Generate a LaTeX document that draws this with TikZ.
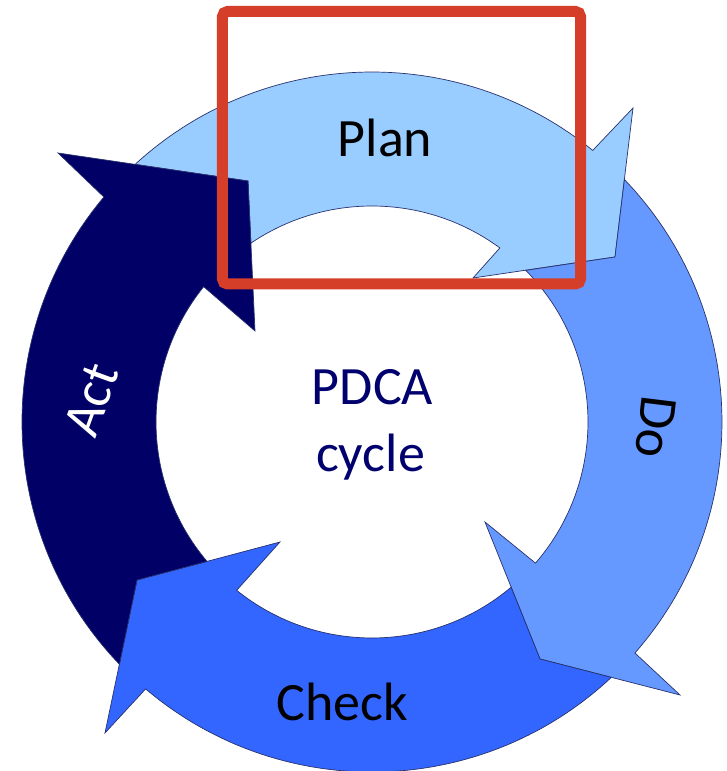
\documentclass[tikz,border=0pt]{standalone}
\usepackage{fontspec}
\setmainfont{Carlito}
\definecolor{planc}{RGB}{153,204,255}
\definecolor{doc}{RGB}{102,153,255}
\definecolor{checkc}{RGB}{51,102,255}
\definecolor{actc}{RGB}{0,0,102}
\definecolor{edgec}{RGB}{40,50,110}
\definecolor{navytext}{RGB}{0,0,110}
\definecolor{framec}{RGB}{213,62,40}
\tikzset{
  cyclearrow/.style={draw=edgec, line width=0.7pt, line join=miter},
  bigtext/.style={font=\fontsize{54}{60}\selectfont, inner sep=0pt},
  hiliteframe/.style={draw=framec, line width=11pt, rounded corners=5pt}
}
\begin{document}
\begin{tikzpicture}[x=1pt,y=1pt]
\useasboundingbox (-372,-349) rectangle (355,422);
\fill[white] (-372,-349) rectangle (355,422);
% Plan
\path[cyclearrow, fill=planc] (-124,241) -- (132.6:350) arc[start angle=132.6, end angle=50.9, radius=350pt]
  -- (261,314) -- (243,165) -- (101,144) -- (53.7:216) arc[start angle=53.7, end angle=124.1, radius=216pt] -- cycle;
% Do
\path[cyclearrow, fill=doc] (243,165) -- (43.85:350) arc[start angle=43.85, end angle=-41.3, radius=350pt]
  -- (308,-273) -- (168,-237) -- (113,-100) -- (-40.8:216) arc[start angle=-40.8, end angle=44.6, radius=216pt] -- cycle;
% Check
\path[cyclearrow, fill=checkc] (168,-237) -- (-46.85:350) arc[start angle=-46.85, end angle=-130.3, radius=350pt]
  -- (-267,-311) -- (-235,-158) -- (-92,-120) -- (-128.8:216) arc[start angle=-128.8, end angle=-49.9, radius=216pt] -- cycle;
% Act
\path[cyclearrow, fill=actc] (-235,-158) -- (223.8:350) arc[start angle=223.8, end angle=140, radius=350pt]
  -- (-314,269) -- (-124,241) -- (-117,91) -- (141.2:216) arc[start angle=141.2, end angle=220.2, radius=216pt] -- cycle;
% labels
\node[bigtext, anchor=base] (plan) at (13,265) {Plan};
\node[bigtext, rotate=-97] (do) at (284,-5) {Do};
\node[bigtext, anchor=base] (check) at (-29.5,-298) {Check};
\node[bigtext, text=white, rotate=70] (act) at (-280.5,22) {Act};
\node[bigtext, text=navytext, anchor=base] (pdca) at (0.5,17) {PDCA};
\node[bigtext, text=navytext, anchor=base] (cycle) at (-1.5,-49) {cycle};
% highlight frame
\draw[hiliteframe] (-149.5,138) rectangle (208.5,410.5);
\end{tikzpicture}
\end{document}
